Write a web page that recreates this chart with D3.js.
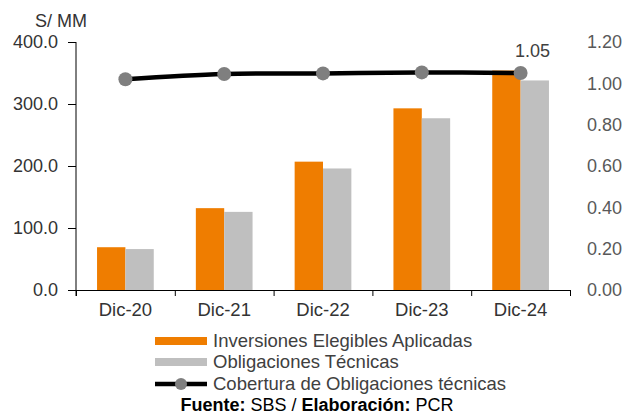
<!DOCTYPE html>
<html>
<head>
<meta charset="utf-8">
<script src="https://cdn.jsdelivr.net/npm/d3@7/dist/d3.min.js"></script>
<style>
  html, body { margin: 0; padding: 0; background: #fff; }
  svg { display: block; font-family: "Liberation Sans", Arial, sans-serif; }
</style>
</head>
<body>
<svg id="chart" width="632" height="416"></svg>
<script>
// Periods on the horizontal axis
const categories = ["Dic-20", "Dic-21", "Dic-22", "Dic-23", "Dic-24"];
// Inversiones Elegibles Aplicadas (S/ MM)
const inversiones = [69, 132, 207, 293, 354];
// Obligaciones Técnicas (S/ MM)
const obligaciones = [66, 126, 196, 277, 338];
// Cobertura de Obligaciones técnicas (veces)
const cobertura = [1.02, 1.045, 1.048, 1.053, 1.05];
// Tick labels
const leftTicks = [0, 100, 200, 300, 400];
const rightTicks = [0, 0.2, 0.4, 0.6, 0.8, 1.0, 1.2];
const seriesNames = ["Inversiones Elegibles Aplicadas", "Obligaciones Técnicas", "Cobertura de Obligaciones técnicas"];

const colors = { inv: "#EF7D00", obl: "#BFBFBF", line: "#000000", marker: "#7F7F7F" };
const FONT = "'Liberation Sans', Arial, sans-serif";

const svg = d3.select("#chart");
const plot = { left: 76, right: 570, top: 42, bottom: 290 };

const x0 = d3.scaleBand().domain(categories)
  .range([plot.left, plot.right]).paddingInner(0.426).paddingOuter(0.213);
const x1 = d3.scaleBand().domain(["inv", "obl"]).range([0, x0.bandwidth()]);
const yL = d3.scaleLinear().domain([0, 400]).range([plot.bottom, plot.top]);
const yR = d3.scaleLinear().domain([0, 1.2]).range([plot.bottom, plot.top]);
const xb = d3.scaleLinear().domain([0, categories.length]).range([plot.left, plot.right]);

// Bars
const rows = categories.map((c, i) => ({ c, inv: inversiones[i], obl: obligaciones[i] }));
const groups = svg.append("g").selectAll("g").data(rows).join("g")
  .attr("transform", d => `translate(${x0(d.c)},0)`);
groups.selectAll("rect").data(d => [{ k: "inv", v: d.inv }, { k: "obl", v: d.obl }]).join("rect")
  .attr("x", d => x1(d.k))
  .attr("width", x1.bandwidth())
  .attr("y", d => yL(d.v))
  .attr("height", d => yL(0) - yL(d.v))
  .attr("fill", d => colors[d.k]);

// Left axis
const gL = svg.append("g").attr("transform", `translate(${plot.left},0)`)
  .call(d3.axisLeft(yL).tickValues(leftTicks).tickSize(8).tickPadding(10).tickFormat(d3.format(".1f")));
gL.select(".domain").remove();
gL.append("line").attr("x1", 0).attr("x2", 0).attr("y1", plot.top).attr("y2", plot.bottom + 6)
  .attr("stroke", "#000").attr("stroke-width", 1);
gL.selectAll(".tick line").attr("stroke", "#000");
gL.selectAll("text").attr("font-size", 18).attr("fill", "#333").attr("font-family", FONT);

// Right axis (labels only)
const gR = svg.append("g").attr("transform", `translate(${plot.right},0)`)
  .call(d3.axisRight(yR).tickValues(rightTicks).tickSize(0).tickPadding(17).tickFormat(d3.format(".2f")));
gR.select(".domain").remove();
gR.selectAll("text").attr("font-size", 18).attr("fill", "#595959").attr("font-family", FONT);

// Bottom axis: boundary ticks and category labels
const gB = svg.append("g").attr("transform", `translate(0,${plot.bottom})`)
  .call(d3.axisBottom(xb).ticks(categories.length).tickSize(6).tickFormat(""));
gB.select(".domain").attr("stroke", "#000");
gB.selectAll(".tick line").attr("stroke", "#000");
const gC = svg.append("g").attr("transform", `translate(0,${plot.bottom})`)
  .call(d3.axisBottom(x0).tickSize(0).tickPadding(13));
gC.select(".domain").remove();
gC.selectAll("text").attr("font-size", 18.5).attr("fill", "#333").attr("font-family", FONT);

// Unit label
svg.append("text").attr("x", 61).attr("y", 27).attr("text-anchor", "middle")
  .attr("font-size", 18).attr("fill", "#333").text("S/ MM");

// Coverage line
const cx = c => x0(c) + x0.bandwidth() / 2;
const line = d3.line().x((d, i) => cx(categories[i])).y(d => yR(d)).curve(d3.curveCatmullRom);
svg.append("path").datum(cobertura).attr("d", line)
  .attr("fill", "none").attr("stroke", colors.line).attr("stroke-width", 4.5);
svg.append("g").selectAll("circle").data(cobertura).join("circle")
  .attr("cx", (d, i) => cx(categories[i])).attr("cy", d => yR(d)).attr("r", 7)
  .attr("fill", colors.marker);

// Value label on the last point
const last = cobertura.length - 1;
svg.append("text").attr("x", cx(categories[last]) + 12).attr("y", yR(cobertura[last]) - 16)
  .attr("text-anchor", "middle").attr("font-size", 18).attr("fill", "#404040")
  .text(d3.format(".2f")(cobertura[last]));

// Legend
const lg = svg.append("g").attr("transform", "translate(155,0)");
const rowY = [341, 362, 384];
lg.append("rect").attr("x", 0).attr("y", rowY[0] - 4).attr("width", 52).attr("height", 8).attr("fill", colors.inv);
lg.append("rect").attr("x", 0).attr("y", rowY[1] - 4).attr("width", 52).attr("height", 8).attr("fill", colors.obl);
lg.append("line").attr("x1", 0).attr("x2", 52).attr("y1", rowY[2]).attr("y2", rowY[2])
  .attr("stroke", colors.line).attr("stroke-width", 4.5);
lg.append("circle").attr("cx", 26).attr("cy", rowY[2]).attr("r", 6).attr("fill", colors.marker);
lg.selectAll("text").data(seriesNames).join("text")
  .attr("x", 58).attr("y", (d, i) => rowY[i] + 6)
  .attr("font-size", 18.5).attr("fill", "#404040").text(d => d);

// Source note
const src = svg.append("text").attr("x", 317).attr("y", 411).attr("text-anchor", "middle")
  .attr("font-size", 18).attr("fill", "#000");
src.append("tspan").attr("font-weight", "bold").text("Fuente:");
src.append("tspan").text(" SBS / ");
src.append("tspan").attr("font-weight", "bold").text("Elaboración:");
src.append("tspan").text(" PCR");
</script>
</body>
</html>
